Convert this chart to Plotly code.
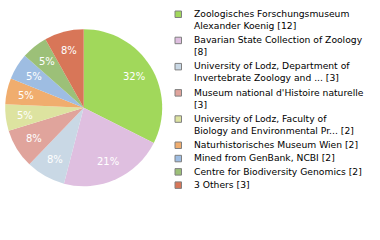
import math
import textwrap
import plotly.graph_objects as go

names = [
    "Zoologisches Forschungsmuseum Alexander Koenig",
    "Bavarian State Collection of Zoology",
    "University of Lodz, Department of Invertebrate Zoology and ...",
    "Museum national d'Histoire naturelle",
    "University of Lodz, Faculty of Biology and Environmental Pr...",
    "Naturhistorisches Museum Wien",
    "Mined from GenBank, NCBI",
    "Centre for Biodiversity Genomics",
    "3 Others",
]
counts = [12, 8, 3, 3, 2, 2, 2, 2, 3]
colors = ["#a1d85b", "#dfbfe0", "#c9d8e5", "#e0a49c", "#dde3a0",
          "#f0ad6e", "#9ebde2", "#9cc078", "#d87658"]

W, H = 380, 240
total = sum(counts)
pct_text = [f"{int(c * 100 / total)}%" for c in counts]

# pie geometry (pixels)
cx, cy, r = 83.7, 107.7, 78.5

fig = go.Figure()
fig.add_trace(go.Pie(
    values=counts,
    labels=names,
    textinfo="none",
    marker=dict(colors=colors, line=dict(width=0)),
    sort=False,
    direction="clockwise",
    rotation=0,
    showlegend=False,
    hoverinfo="skip",
    domain=dict(x=[(cx - r) / W, (cx + r) / W],
                y=[(H - cy - r) / H, (H - cy + r) / H]),
))

shapes = []
annotations = []

# percentage labels placed along each slice's mid-angle
cum = 0
for cnt, txt in zip(counts, pct_text):
    mid = 2 * math.pi * (cum + cnt / 2) / total
    cum += cnt
    px = cx + 0.75 * r * math.sin(mid)
    py = cy - 0.75 * r * math.cos(mid)
    annotations.append(dict(
        text=txt, xref="paper", yref="paper",
        x=px / W, y=1 - py / H, xanchor="center", yanchor="middle",
        showarrow=False,
        font=dict(family="DejaVu Sans", size=10, color="white"),
    ))

line_h = 12.9
gap = 0.4
top = 7.0
box_x0, box_x1 = 175, 181.5
text_x = 192
for name, cnt, col in zip(names, counts, colors):
    lines = textwrap.wrap(f"{name} [{cnt}]", width=36)
    shapes.append(dict(
        type="rect", xref="paper", yref="paper",
        x0=box_x0 / W, x1=box_x1 / W,
        y0=1 - (top + 4) / H, y1=1 - (top + 10.5) / H,
        fillcolor=col, line=dict(color="#808080", width=1),
    ))
    annotations.append(dict(
        text="<br>".join(lines), xref="paper", yref="paper",
        x=text_x / W, y=1 - (top - 1) / H,
        xanchor="left", yanchor="top", align="left", showarrow=False,
        font=dict(family="DejaVu Sans", size=9.2, color="black"),
    ))
    top += len(lines) * line_h + gap

fig.update_layout(
    width=W, height=H,
    margin=dict(l=0, r=0, t=0, b=0),
    paper_bgcolor="white", plot_bgcolor="white",
    shapes=shapes, annotations=annotations,
)

fig.write_html("out.html")
